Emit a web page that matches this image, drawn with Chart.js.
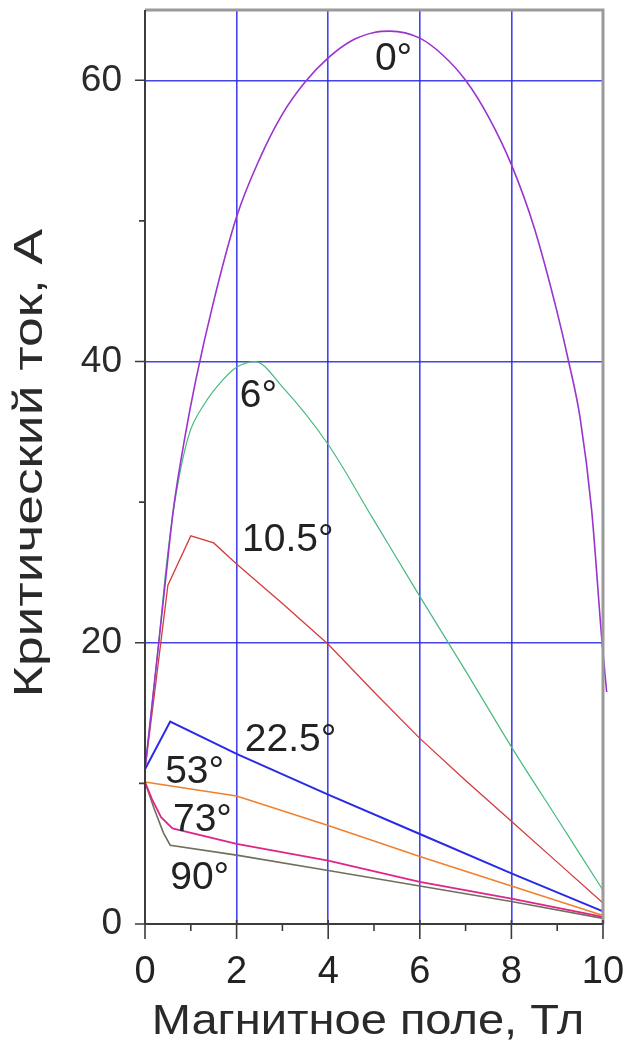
<!DOCTYPE html>
<html>
<head>
<meta charset="utf-8">
<script src="https://cdn.jsdelivr.net/npm/chart.js@4"></script>
<style>
  html, body { margin: 0; padding: 0; background: #fff; }
  canvas { display: block; }
</style>
</head>
<body>
<canvas id="jc" width="633" height="1049"></canvas>
<script>
// угол поля относительно ленты
const angles = ['0°', '6°', '10.5°', '22.5°', '53°', '73°', '90°'];

// поле B, Тл / критический ток Ic, А для каждого угла
const b0 = [0, 0.15, 0.3, 0.45, 0.62, 0.87, 1.11, 1.5, 2, 2.5, 3, 3.5, 4, 4.5, 5, 5.35, 6, 6.5, 7, 7.5, 8, 8.5, 9, 9.25, 9.5, 9.75, 9.98, 10.08];
const i0 = [11, 15.5, 20, 24.5, 29.5, 34.6, 38.7, 44.3, 50.3, 54.4, 57.6, 59.9, 61.6, 62.8, 63.4, 63.5, 63.0, 61.8, 60, 57.4, 54, 49.5, 43.5, 40, 36, 29.5, 20, 16.5];

const b1 = [0, 0.3, 0.45, 0.65, 0.95, 1.3, 1.7, 2.0, 2.4, 3, 4, 5, 6, 7, 8, 9, 10];
const i1 = [11, 20, 25, 30, 34.7, 37, 38.7, 39.6, 40, 38.2, 34.1, 28.7, 23.3, 18, 12.6, 7.5, 2.4];

const b2 = [0, 0.25, 0.5, 1.0, 1.5, 2, 3, 4, 5, 6, 7, 8, 9, 10];
const i2 = [11, 17.5, 24.1, 27.6, 27.1, 25.6, 22.8, 19.9, 16.5, 13.2, 10.2, 7.3, 4.4, 1.5];

const b3 = [0, 0.55, 2, 4, 6, 8, 10];
const i3 = [11, 14.4, 12.1, 9.2, 6.4, 3.6, 0.9];

const b4 = [0, 1, 2, 4, 6, 8, 10];
const i4 = [10.1, 9.6, 9.1, 7.0, 4.8, 2.7, 0.6];

const b5 = [0, 0.15, 0.35, 0.6, 2, 4, 6, 8, 10];
const i5 = [10.1, 8.9, 7.6, 6.8, 5.7, 4.5, 3.0, 1.8, 0.5];

const b6 = [0, 0.2, 0.4, 0.55, 2, 4, 6, 8, 10];
const i6 = [10.1, 8.2, 6.5, 5.6, 4.9, 3.8, 2.7, 1.6, 0.4];

// подписи осей
const xTicks = [0, 2, 4, 6, 8, 10];
const yTicks = [0, 20, 40, 60];

const fields = [b0, b1, b2, b3, b4, b5, b6];
const currents = [i0, i1, i2, i3, i4, i5, i6];
const colors = ['#9a34cf', '#45b97c', '#d63c3c', '#2a2ae6', '#ef812e', '#e0258a', '#6f6f5c'];
const widths = [1.6, 1.2, 1.3, 2, 1.6, 1.8, 1.6];
const smooth = [true, true, false, false, false, false, false];

const datasets = fields.map((bs, k) => ({
    label: angles[k],
    data: bs.map((b, j) => ({ x: b, y: currents[k][j] })),
    borderColor: colors[k],
    borderWidth: widths[k],
    pointRadius: 0,
    fill: false,
    tension: 0,
    cubicInterpolationMode: smooth[k] ? 'monotone' : 'default',
    clip: 8
}));

// положение подписей углов на графике (в единицах осей)
const tags = [
    { t: '0°', x: 5.02, y: 60.7 },
    { t: '6°', x: 2.07, y: 36.8 },
    { t: '10.5°', x: 2.12, y: 26.5 },
    { t: '22.5°', x: 2.18, y: 12.3 },
    { t: '53°', x: 0.44, y: 10.0 },
    { t: '73°', x: 0.61, y: 6.6 },
    { t: '90°', x: 0.55, y: 2.5 }
];

const FONT = '"Liberation Sans", Arial, sans-serif';

const frame = {
    id: 'frame',
    afterDatasetsDraw(chart) {
        const { ctx, chartArea: a, scales: { x, y } } = chart;
        ctx.save();
        // верх и правая сторона рамки
        ctx.strokeStyle = '#9a9a9a';
        ctx.lineWidth = 3;
        ctx.beginPath();
        ctx.moveTo(a.left, a.top);
        ctx.lineTo(a.right, a.top);
        ctx.lineTo(a.right, a.bottom);
        ctx.stroke();
        // оси
        ctx.strokeStyle = '#3c3c3c';
        ctx.lineWidth = 2;
        ctx.beginPath();
        ctx.moveTo(a.left, a.top);
        ctx.lineTo(a.left, a.bottom);
        ctx.lineTo(a.right, a.bottom);
        ctx.stroke();
        // засечки
        ctx.lineWidth = 1.6;
        ctx.beginPath();
        for (let v = 0; v <= 10; v++) {
            const px = x.getPixelForValue(v);
            const major = v % 2 === 0;
            ctx.moveTo(px, a.bottom - (major ? 4 : 0));
            ctx.lineTo(px, a.bottom + (major ? 15 : 7));
        }
        for (let v = 0; v <= 60; v += 10) {
            const py = y.getPixelForValue(v);
            ctx.moveTo(a.left, py);
            ctx.lineTo(a.left - (v % 20 === 0 ? 10 : 6), py);
        }
        ctx.stroke();

        // подписи углов
        ctx.fillStyle = '#222';
        ctx.font = '39px ' + FONT;
        ctx.textAlign = 'left';
        ctx.textBaseline = 'alphabetic';
        tags.forEach(g => {
            ctx.fillText(g.t, x.getPixelForValue(g.x), y.getPixelForValue(g.y));
        });
        ctx.restore();

        // заголовки осей
        ctx.save();
        ctx.fillStyle = '#2a2a2a';
        ctx.textAlign = 'center';
        ctx.textBaseline = 'middle';
        ctx.font = '42px ' + FONT;
        ctx.translate((a.left + a.right) / 2 - 6, 1022);
        ctx.scale(1.12, 1);
        ctx.fillText('Магнитное поле, Тл', 0, 0);
        ctx.restore();

        ctx.save();
        ctx.fillStyle = '#2a2a2a';
        ctx.textAlign = 'center';
        ctx.textBaseline = 'middle';
        ctx.font = '41px ' + FONT;
        ctx.translate(31, 463);
        ctx.rotate(-Math.PI / 2);
        ctx.scale(1.3, 1);
        ctx.fillText('Критический ток, А', 0, 0);
        ctx.restore();
    }
};

new Chart(document.getElementById('jc'), {
    type: 'line',
    data: { datasets },
    options: {
        responsive: false,
        animation: false,
        devicePixelRatio: 1,
        layout: { padding: { top: 10, right: 30, left: 0, bottom: 0 } },
        plugins: { legend: { display: false }, tooltip: { enabled: false } },
        scales: {
            x: {
                type: 'linear',
                min: 0,
                max: 10,
                afterFit(s) { s.height = 125; s.paddingLeft = 0; s.paddingRight = 0; },
                afterBuildTicks(s) { s.ticks = xTicks.map(v => ({ value: v })); },
                border: { display: false },
                grid: {
                    drawTicks: false,
                    lineWidth: 1.6,
                    color: c => (c.tick && c.tick.value > 0 && c.tick.value < 10) ? 'rgba(35,35,230,0.85)' : 'rgba(0,0,0,0)'
                },
                ticks: {
                    autoSkip: false,
                    maxRotation: 0,
                    padding: 26,
                    color: '#222',
                    font: { family: FONT, size: 38 }
                }
            },
            y: {
                type: 'linear',
                min: 0,
                max: 65,
                afterFit(s) { s.width = 145; s.paddingTop = 0; s.paddingBottom = 0; },
                afterBuildTicks(s) { s.ticks = yTicks.map(v => ({ value: v })); },
                border: { display: false },
                grid: {
                    drawTicks: false,
                    lineWidth: 1.6,
                    color: c => (c.tick && c.tick.value > 0) ? 'rgba(35,35,230,0.85)' : 'rgba(0,0,0,0)'
                },
                ticks: {
                    padding: 23,
                    color: '#2a2a2a',
                    font: { family: FONT, size: 37 }
                }
            }
        }
    },
    plugins: [frame]
});
</script>
</body>
</html>
